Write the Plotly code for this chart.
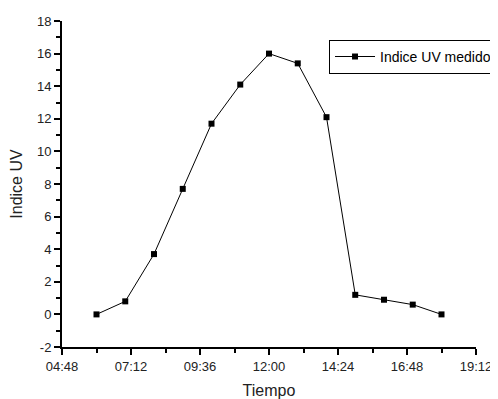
import plotly.graph_objects as go

times = ["06:00", "07:00", "08:00", "09:00", "10:00", "11:00", "12:00",
         "13:00", "14:00", "15:00", "16:00", "17:00", "18:00"]
uv_index = [0.0, 0.8, 3.7, 7.7, 11.7, 14.1, 16.0, 15.4, 12.1, 1.2, 0.9, 0.6, 0.0]
x_tick_labels = ["04:48", "07:12", "09:36", "12:00", "14:24", "16:48", "19:12"]
x_minor_labels = ["06:00", "08:24", "10:48", "13:12", "15:36", "18:00"]
y_tick_values = [-2, 0, 2, 4, 6, 8, 10, 12, 14, 16, 18]
y_tick_labels = ["-2", "0", "2", "4", "6", "8", "10", "12", "14", "16", "18"]

day = "2020-01-01 "
xs = [day + t for t in times]

fig = go.Figure()
fig.add_trace(go.Scatter(
    x=xs, y=uv_index, mode="lines+markers", name="Indice UV medido",
    line=dict(color="black", width=1),
    marker=dict(symbol="square", size=6, color="black"),
))

font = "Liberation Sans, Arial, sans-serif"
fig.update_layout(
    width=490, height=391,
    margin=dict(l=54, r=22, t=13, b=52, autoexpand=False),
    paper_bgcolor="white", plot_bgcolor="white",
    font=dict(family=font, color="#222", size=13),
    showlegend=True,
    legend=dict(x=0.645, y=0.942, xanchor="left", yanchor="top",
                bordercolor="black", borderwidth=1, bgcolor="white",
                font=dict(size=14, color="black"),
                itemwidth=40, tracegroupgap=0),
    xaxis=dict(
        type="date", automargin=False,
        range=[day + x_tick_labels[0], day + x_tick_labels[-1]],
        tickvals=[day + t for t in x_tick_labels],
        ticktext=x_tick_labels,
        showline=True, linecolor="black", linewidth=2,
        ticks="outside", ticklen=6, tickwidth=2, tickcolor="black",
        showgrid=False, zeroline=False,
        tickfont=dict(size=13, color="#222"),
        title=dict(text="Tiempo", font=dict(size=16, color="#222"), standoff=12),
        minor=dict(tickvals=[day + t for t in x_minor_labels], ticks="outside",
                   ticklen=4, tickwidth=2, tickcolor="black", showgrid=False),
    ),
    yaxis=dict(
        range=[-2, 18], tickvals=y_tick_values, ticktext=y_tick_labels,
        automargin=False,
        showline=True, linecolor="black", linewidth=2,
        ticks="outside", ticklen=6, tickwidth=2, tickcolor="black",
        showgrid=False, zeroline=False,
        tickfont=dict(size=13, color="#222"),
        title=dict(text="Indice UV", font=dict(size=16, color="#222"), standoff=14),
        minor=dict(dtick=1, tick0=-2, ticks="outside", ticklen=4, tickwidth=2,
                   tickcolor="black", showgrid=False),
    ),
)

fig.write_html("out.html")
